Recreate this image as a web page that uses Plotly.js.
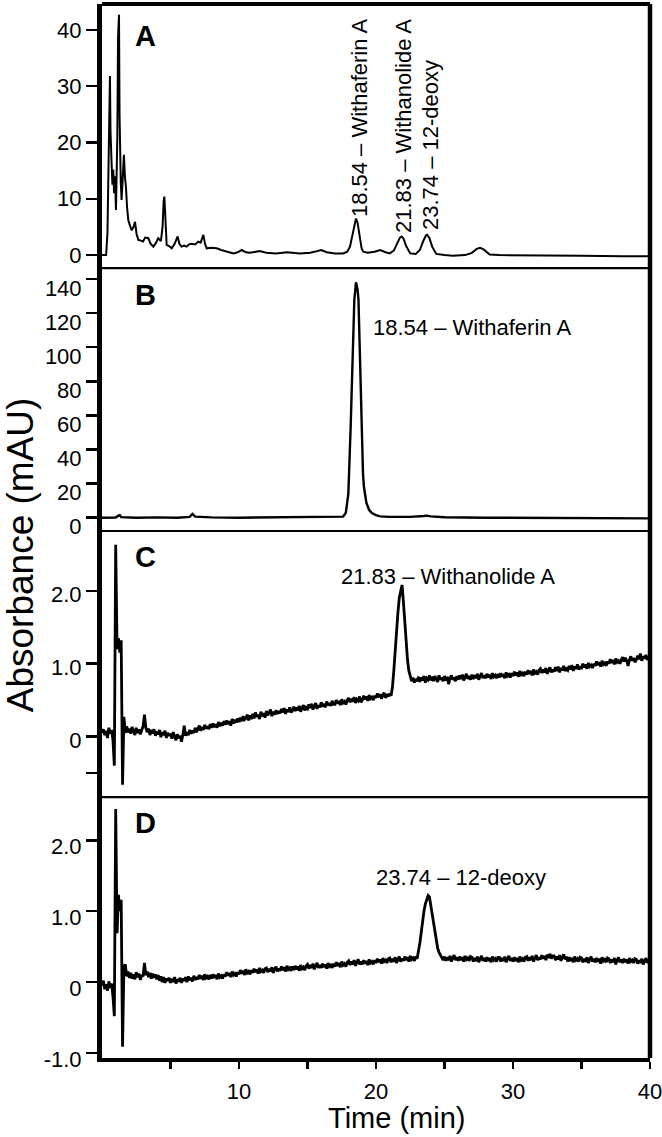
<!DOCTYPE html>
<html>
<head>
<meta charset="utf-8">
<script src="https://cdn.plot.ly/plotly-3.0.1.min.js"></script>
<style>html,body{margin:0;padding:0;background:#fff;}#chart{width:662px;height:1137px;}</style>
</head>
<body>
<div id="chart"></div>
<script>
// ---------- DATA ----------
// Panel A: extract chromatogram (time in min, absorbance in mAU)
const timeA = [0.00,0.30,0.40,0.48,0.55,0.58,0.62,0.66,0.71,0.76,0.82,0.88,0.95,1.02,1.07,1.12,1.17,1.24,1.28,1.31,1.37,1.43,1.52,1.60,1.67,1.75,1.83,1.92,2.05,2.17,2.30,2.41,2.52,2.65,2.80,3.00,3.15,3.38,3.55,3.75,3.95,4.10,4.30,4.42,4.50,4.55,4.62,4.72,4.90,5.09,5.30,5.52,5.65,5.80,6.00,6.18,6.35,6.55,6.80,7.03,7.20,7.40,7.52,7.64,8.00,8.37,8.70,9.10,9.60,9.90,10.20,10.50,10.80,11.50,12.00,12.70,13.50,14.45,15.20,15.70,16.00,16.40,17.00,17.60,17.90,18.10,18.30,18.45,18.54,18.65,18.80,18.95,19.07,19.40,19.90,20.30,20.70,21.00,21.30,21.55,21.75,21.87,22.00,22.20,22.50,22.90,23.20,23.45,23.65,23.74,23.90,24.10,24.40,25.00,25.60,26.50,27.00,27.35,27.60,27.85,28.30,29.00,30.00,32.00,35.00,38.00,40.00];
const absA = [0,0,4,15,28,31.8,22,16,15.7,12.5,15.2,11,14,8,14,21,38.6,42.7,25,15.7,13,9.8,16,17.8,14,12,8.5,6.2,5.2,4.4,5,5.9,3.8,2.7,2.6,2.4,3.1,3.0,2.0,1.5,2.2,3.0,2.5,5,9.5,10.4,7,1.8,1.6,1.2,2.0,3.3,2.0,1.5,1.7,1.5,1.9,2.0,1.9,2.4,2.2,3.6,2.0,1.2,1.3,1.2,0.9,0.6,0.3,0.5,0.9,0.5,0.4,0.7,0.4,0.3,0.5,0.3,0.4,0.7,0.9,0.5,0.3,0.3,0.6,1.5,4.0,6.0,6.5,5.8,3.2,1.2,0.6,0.4,0.6,0.9,0.5,0.3,0.8,2.0,3.1,3.3,3.0,1.6,0.3,0.2,0.9,2.5,3.5,3.6,3.0,1.5,0.2,0,-0.1,0,0.4,1.1,1.3,1.0,0.1,0,0,-0.1,-0.1,-0.2,-0.2];

// Panel B: Withaferin A standard
const timeB = [0,1.0,1.2,1.3,1.4,2.5,4.0,5.5,6.4,6.6,6.8,8.0,10.0,12.0,14.0,16.0,17.3,17.6,17.8,17.98,18.15,18.30,18.42,18.54,18.65,18.72,18.83,18.95,19.05,19.12,19.30,19.50,19.70,20.00,20.30,21.00,22.50,23.50,23.70,24.0,25.0,28.0,32.0,36.0,40.0];
const absB = [0,0.1,1.2,1.5,0.3,0,0.2,0,0.5,2.2,0.6,0.2,0,0.2,0,0.3,0.3,0.6,3,14,53,102,128,138,134,128,92.5,44,26,18,8.6,4.5,2.7,1.5,0.8,0.5,0.5,1.0,1.2,0.8,0.3,0,-0.2,-0.3,-0.4];

// Panels C and D: sampled every tStep minutes starting at tStart
const tStart = 0;
const tStep = 0.1;
const absC = [
0.05,0.10,0.02,0.08,-0.02,0.12,0.04,0.09,-0.05,-0.40,
2.63,1.20,1.35,1.15,1.32,-0.66,0.27,0.05,0.14,0.06,
0.11,0.04,0.13,0.07,0.02,0.12,0.05,0.10,0.03,0.09,
0.14,0.30,0.12,0.06,0.11,0.02,0.09,0.04,0.10,0.01,
0.07,0.03,0.09,-0.01,0.06,0.02,0.08,-0.02,0.05,0.01,
0.04,-0.03,0.06,0.00,-0.05,0.03,-0.02,0.01,-0.07,0.02,
0.15,0.01,0.06,0.02,0.09,0.04,0.08,0.05,0.12,0.06,
0.10,0.15,0.08,0.13,0.09,0.16,0.11,0.14,0.10,0.17,
0.12,0.18,0.13,0.17,0.12,0.20,0.14,0.19,0.15,0.21,
0.16,0.22,0.17,0.21,0.15,0.24,0.18,0.23,0.19,0.25,
0.20,0.26,0.21,0.28,0.23,0.25,0.30,0.22,0.29,0.24,
0.31,0.25,0.33,0.27,0.30,0.24,0.34,0.28,0.32,0.26,
0.35,0.29,0.33,0.37,0.28,0.34,0.30,0.36,0.31,0.35,
0.32,0.38,0.33,0.39,0.31,0.37,0.34,0.40,0.33,0.36,
0.41,0.35,0.40,0.36,0.42,0.34,0.39,0.43,0.36,0.40,
0.38,0.44,0.39,0.45,0.37,0.42,0.46,0.38,0.43,0.40,
0.47,0.41,0.45,0.40,0.48,0.43,0.46,0.42,0.49,0.44,
0.44,0.50,0.45,0.49,0.43,0.51,0.46,0.48,0.44,0.50,
0.53,0.47,0.52,0.48,0.54,0.46,0.51,0.49,0.55,0.47,
0.50,0.56,0.51,0.55,0.49,0.57,0.52,0.54,0.50,0.56,
0.53,0.59,0.54,0.58,0.52,0.57,0.60,0.53,0.58,0.55,
0.59,0.56,0.68,0.90,1.20,1.46,1.70,1.90,2.02,2.08,
1.85,1.55,1.28,1.05,0.90,0.82,0.76,0.81,0.74,0.79,
0.76,0.82,0.75,0.81,0.77,0.83,0.74,0.80,0.78,0.84,
0.77,0.82,0.76,0.83,0.79,0.75,0.84,0.78,0.81,0.76,
0.83,0.77,0.82,0.72,0.80,0.84,0.78,0.81,0.76,0.83,
0.78,0.84,0.79,0.85,0.77,0.82,0.86,0.79,0.83,0.78,
0.85,0.79,0.84,0.80,0.86,0.78,0.83,0.87,0.80,0.84,
0.80,0.86,0.81,0.85,0.79,0.87,0.82,0.84,0.80,0.86,
0.81,0.87,0.82,0.86,0.80,0.88,0.83,0.85,0.81,0.87,
0.83,0.89,0.84,0.88,0.82,0.90,0.85,0.87,0.83,0.89,
0.85,0.91,0.86,0.90,0.84,0.92,0.87,0.89,0.85,0.91,
0.93,0.87,0.92,0.88,0.94,0.86,0.91,0.95,0.88,0.92,
0.89,0.95,0.90,0.96,0.88,0.94,0.91,0.97,0.90,0.93,
0.91,0.97,0.92,0.98,0.90,0.96,0.93,0.99,0.92,0.95,
0.94,1.00,0.95,0.99,0.93,1.01,0.96,0.98,0.94,1.00,
0.97,1.03,0.98,1.02,0.96,1.04,0.99,1.01,0.97,1.03,
1.00,1.06,1.01,1.05,0.99,1.07,1.02,1.04,1.00,1.06,
1.09,1.03,1.08,1.04,0.97,1.05,1.10,1.04,1.08,1.02,
1.05,1.11,1.06,1.14,1.04,1.10,1.07,1.12,1.05,1.09,
1.10];
const absD = [
-0.05,0.02,-0.10,-0.03,-0.12,0.01,-0.08,-0.02,-0.20,-0.48,
2.44,0.69,1.23,1.00,1.16,-0.91,0.22,0.25,0.08,0.15,
0.06,0.13,0.05,0.11,0.04,0.14,0.07,0.12,0.03,0.10,
0.08,0.27,0.10,0.15,0.07,0.13,0.05,0.12,0.06,0.11,
0.04,0.10,0.02,0.08,0.00,0.07,-0.01,0.05,0.02,0.06,
-0.01,0.05,0.00,0.07,-0.02,0.04,0.01,0.06,-0.01,0.05,
0.02,0.07,0.00,0.08,0.03,0.06,0.01,0.09,0.03,0.07,
0.04,0.10,0.05,0.09,0.03,0.11,0.06,0.08,0.04,0.10,
0.05,0.11,0.06,0.10,0.04,0.12,0.07,0.09,0.05,0.11,
0.08,0.14,0.09,0.13,0.07,0.15,0.10,0.12,0.08,0.14,
0.11,0.17,0.12,0.16,0.10,0.18,0.13,0.15,0.11,0.17,
0.13,0.19,0.14,0.18,0.12,0.20,0.15,0.17,0.13,0.19,
0.20,0.14,0.19,0.15,0.21,0.13,0.18,0.22,0.15,0.19,
0.16,0.22,0.17,0.21,0.15,0.23,0.18,0.20,0.16,0.22,
0.17,0.23,0.18,0.22,0.16,0.24,0.19,0.21,0.17,0.23,
0.25,0.19,0.24,0.20,0.26,0.18,0.23,0.27,0.20,0.24,
0.20,0.26,0.21,0.25,0.19,0.27,0.22,0.24,0.20,0.26,
0.22,0.28,0.23,0.27,0.21,0.29,0.24,0.26,0.22,0.28,
0.30,0.24,0.29,0.25,0.31,0.23,0.28,0.32,0.25,0.29,
0.25,0.31,0.26,0.30,0.24,0.32,0.27,0.29,0.25,0.31,
0.27,0.33,0.28,0.32,0.26,0.34,0.29,0.31,0.27,0.33,
0.34,0.28,0.33,0.29,0.35,0.27,0.32,0.36,0.29,0.33,
0.30,0.36,0.31,0.35,0.29,0.37,0.32,0.34,0.30,0.36,
0.33,0.42,0.55,0.70,0.88,1.00,1.10,1.16,1.22,1.20,
1.08,0.95,0.80,0.69,0.56,0.48,0.42,0.38,0.35,0.31,
0.36,0.30,0.35,0.31,0.37,0.29,0.34,0.38,0.31,0.35,
0.30,0.36,0.31,0.35,0.29,0.37,0.32,0.34,0.30,0.36,
0.35,0.29,0.34,0.30,0.36,0.28,0.33,0.37,0.30,0.34,
0.29,0.35,0.30,0.34,0.28,0.36,0.31,0.33,0.29,0.35,
0.35,0.29,0.34,0.30,0.36,0.28,0.33,0.37,0.30,0.34,
0.29,0.35,0.30,0.34,0.28,0.36,0.31,0.33,0.29,0.35,
0.36,0.30,0.35,0.31,0.37,0.29,0.34,0.38,0.31,0.35,
0.32,0.38,0.33,0.37,0.31,0.39,0.34,0.40,0.33,0.37,
0.37,0.31,0.36,0.32,0.38,0.30,0.35,0.39,0.32,0.36,
0.29,0.35,0.30,0.34,0.28,0.36,0.31,0.33,0.29,0.35,
0.34,0.28,0.33,0.29,0.35,0.27,0.32,0.36,0.29,0.33,
0.28,0.34,0.29,0.33,0.26,0.35,0.30,0.32,0.28,0.34,
0.33,0.27,0.32,0.28,0.34,0.25,0.31,0.35,0.28,0.32,
0.27,0.33,0.28,0.32,0.26,0.34,0.29,0.31,0.27,0.33,
0.32,0.26,0.31,0.27,0.33,0.25,0.30,0.34,0.27,0.31,
0.29];

// Axis ticks
const xTickVals = [5,10,15,20,25,30,35,40];
const xTickText = ['','10','','20','','30','','40'];
const yTickValsA = [0,10,20,30,40];
const yTickValsB = [0,20,40,60,80,100,120,140];
const yTickValsC = [-0.5,0,1,2];
const yTickTextC = ['','0','1.0','2.0'];
const yTickValsD = [-1,0,1,2];
const yTickTextD = ['-1.0','0','1.0','2.0'];

// Labels
const panelLetters = ['A','B','C','D'];
const peakLabelsA = ['18.54 \u2013 Withaferin A','21.83 \u2013 Withanolide A','23.74 \u2013 12-deoxy'];
const peakLabelB = '18.54 \u2013 Withaferin A';
const peakLabelC = '21.83 \u2013 Withanolide A';
const peakLabelD = '23.74 \u2013 12-deoxy';
const xTitle = 'Time (min)';
const yTitle = 'Absorbance (mAU)';

// ---------- CHART ----------
const FONT = 'Liberation Sans, Arial, Helvetica, sans-serif';
const lineStyle = w => ({color:'#000', width:w});

const traces = [
  {x: timeA, y: absA, xaxis:'x', yaxis:'y', mode:'lines', line:lineStyle(2), hoverinfo:'skip'},
  {x: timeB, y: absB, xaxis:'x', yaxis:'y2', mode:'lines', line:lineStyle(2.4), hoverinfo:'skip'},
  {x0: tStart, dx: tStep, y: absC, xaxis:'x', yaxis:'y3', mode:'lines', line:lineStyle(2.8), hoverinfo:'skip'},
  {x0: tStart, dx: tStep, y: absD, xaxis:'x', yaxis:'y4', mode:'lines', line:lineStyle(2.8), hoverinfo:'skip'}
];

const yBase = {
  showline:true, linewidth:5, linecolor:'#000', mirror:false,
  ticks:'outside', ticklen:11, tickwidth:2.5, tickcolor:'#000',
  tickfont:{family:FONT, size:22, color:'#000'},
  showgrid:false, zeroline:false, fixedrange:true, anchor:'x'
};

const layout = {
  width:662, height:1137,
  margin:{l:102, r:12, t:4, b:79},
  paper_bgcolor:'#fff', plot_bgcolor:'#fff',
  showlegend:false,
  font:{family:FONT, color:'#000'},
  xaxis:{
    domain:[0,1], range:[0,40], anchor:'y4',
    tickmode:'array', tickvals:xTickVals, ticktext:xTickText,
    ticks:'outside', ticklen:7, tickwidth:2.5, tickcolor:'#000',
    showline:true, linewidth:4, linecolor:'#000',
    tickfont:{family:FONT, size:22, color:'#000'},
    ticklabeloverflow:'allow', ticklabelstandoff:4,
    showgrid:false, zeroline:false, fixedrange:true
  },
  yaxis:Object.assign({}, yBase, {domain:[0.7495,1], range:[-2.3,44.6], tickmode:'array', tickvals:yTickValsA}),
  yaxis2:Object.assign({}, yBase, {domain:[0.5,0.7495], range:[-7.8,146.4], tickmode:'array', tickvals:yTickValsB, ticklabelshift:9}),
  yaxis3:Object.assign({}, yBase, {domain:[0.2476,0.5], range:[-0.83,2.82], tickmode:'array', tickvals:yTickValsC, ticktext:yTickTextC, ticklabelshift:4}),
  yaxis4:Object.assign({}, yBase, {domain:[0,0.2476], range:[-1.07,2.61], tickmode:'array', tickvals:yTickValsD, ticktext:yTickTextD, ticklabelshift:6}),
  shapes:[
    {type:'line', xref:'paper', yref:'paper', x0:1, x1:1, y0:0, y1:1, line:{color:'#000', width:4.5}},
    {type:'line', xref:'paper', yref:'paper', x0:0, x1:1, y0:1, y1:1, line:{color:'#000', width:4}},
    {type:'line', xref:'paper', yref:'paper', x0:0, x1:1, y0:0.7495, y1:0.7495, line:{color:'#000', width:2.2}},
    {type:'line', xref:'paper', yref:'paper', x0:0, x1:1, y0:0.5, y1:0.5, line:{color:'#000', width:2.2}},
    {type:'line', xref:'paper', yref:'paper', x0:0, x1:1, y0:0.2476, y1:0.2476, line:{color:'#000', width:2.2}}
  ],
  annotations:[
    // panel letters
    {xref:'x', yref:'y',  x:3.2, y:39.0, text:panelLetters[0], showarrow:false, xanchor:'center', yanchor:'middle', font:{family:FONT, size:29, weight:'bold', color:'#000'}},
    {xref:'x', yref:'y2', x:3.2, y:130.6, text:panelLetters[1], showarrow:false, xanchor:'center', yanchor:'middle', font:{family:FONT, size:29, weight:'bold', color:'#000'}},
    {xref:'x', yref:'y3', x:3.2, y:2.47, text:panelLetters[2], showarrow:false, xanchor:'center', yanchor:'middle', font:{family:FONT, size:29, weight:'bold', color:'#000'}},
    {xref:'x', yref:'y4', x:3.2, y:2.24, text:panelLetters[3], showarrow:false, xanchor:'center', yanchor:'middle', font:{family:FONT, size:29, weight:'bold', color:'#000'}},
    // panel A peak labels (rotated)
    {xref:'x', yref:'y', x:18.76, y:6.4, text:peakLabelsA[0], textangle:-90, showarrow:false, xanchor:'center', yanchor:'bottom', font:{family:FONT, size:22, color:'#000'}},
    {xref:'x', yref:'y', x:21.97, y:3.56, text:peakLabelsA[1], textangle:-90, showarrow:false, xanchor:'center', yanchor:'bottom', font:{family:FONT, size:22, color:'#000'}},
    {xref:'x', yref:'y', x:23.94, y:4.09, text:peakLabelsA[2], textangle:-90, showarrow:false, xanchor:'center', yanchor:'bottom', font:{family:FONT, size:22, color:'#000'}},
    // B, C, D peak labels
    {xref:'x', yref:'y2', x:19.6, y:111.8, text:peakLabelB, showarrow:false, xanchor:'left', yanchor:'middle', font:{family:FONT, size:22, color:'#000'}},
    {xref:'x', yref:'y3', x:25.22, y:2.19, text:peakLabelC, showarrow:false, xanchor:'center', yanchor:'middle', font:{family:FONT, size:22, color:'#000'}},
    {xref:'x', yref:'y4', x:26.2, y:1.47, text:peakLabelD, showarrow:false, xanchor:'center', yanchor:'middle', font:{family:FONT, size:22, color:'#000'}},
    // axis titles
    {xref:'x', yref:'paper', x:21.53, y:-0.0569, text:xTitle, showarrow:false, xanchor:'center', yanchor:'middle', font:{family:FONT, size:29, color:'#000'}},
    {xref:'paper', yref:'paper', x:-0.1496, y:0.477, text:yTitle, textangle:-90, showarrow:false, xanchor:'center', yanchor:'middle', font:{family:FONT, size:37, color:'#000'}}
  ]
};

Plotly.newPlot('chart', traces, layout, {displayModeBar:false, staticPlot:true});
</script>
</body>
</html>
